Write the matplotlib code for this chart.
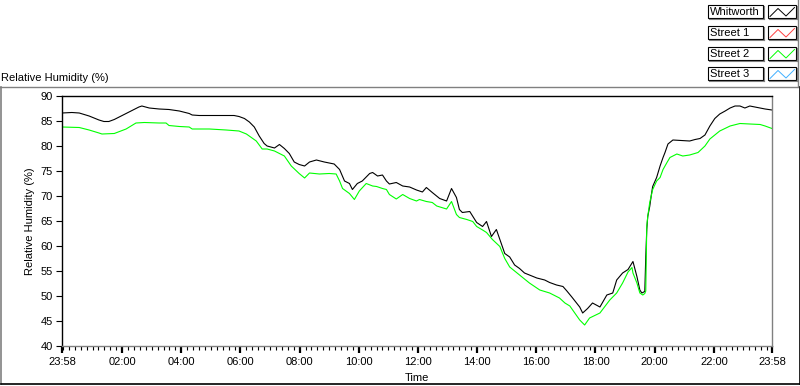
import matplotlib
matplotlib.use("Agg")
import matplotlib.pyplot as plt
from matplotlib.lines import Line2D
from matplotlib.patches import Rectangle

plt.rcParams['font.family'] = ['Liberation Sans', 'DejaVu Sans']
plt.rcParams['font.size'] = 8

# ---- data (minutes elapsed since 23:58) ----
whit_t = [0,20,35,55,75,85,95,106,116,136,156,162,177,197,217,238,258,264,278,319,349,359,370,380,390,400,410,416,431,441,451,461,471,481,492,502,516,532,552,563,573,583,589,599,609,624,630,640,650,658,664,678,691,705,719,731,739,751,766,780,790,800,806,812,827,841,853,861,871,881,888,898,908,918,928,938,948,963,979,989,1003,1016,1024,1034,1042,1050,1056,1066,1076,1091,1105,1117,1125,1137,1148,1158,1166,1172,1176,1182,1184,1186,1188,1192,1196,1198,1206,1213,1219,1223,1229,1239,1255,1273,1284,1294,1304,1314,1324,1334,1345,1355,1365,1375,1385,1395,1405,1416,1426,1440]
whit_rh = [86.6,86.7,86.6,86.0,85.2,84.9,84.9,85.3,85.8,86.8,87.8,88.0,87.6,87.4,87.3,87.0,86.5,86.2,86.1,86.1,86.1,85.9,85.5,84.8,83.8,82.0,80.5,80.0,79.6,80.3,79.5,78.5,76.8,76.3,76.0,76.8,77.2,76.8,76.4,75.3,73.0,72.5,71.3,72.5,73.0,74.5,74.7,74.0,74.2,73.0,72.4,72.7,72.0,71.8,71.2,70.8,71.7,70.7,69.5,69.0,71.5,69.7,67.3,66.7,66.9,64.7,63.9,64.9,61.9,63.3,61.3,58.5,57.8,56.2,55.5,54.6,54.2,53.6,53.2,52.7,52.2,51.9,51.0,49.8,48.8,47.8,46.6,47.5,48.6,47.8,50.2,50.6,53.2,54.6,55.3,56.9,53.9,51.2,50.6,50.9,57.9,63.3,65.9,67.9,70.7,71.9,73.7,76.0,77.7,78.7,80.4,81.2,81.1,81.0,81.3,81.5,82.2,84.0,85.5,86.4,87.0,87.6,88.0,88.0,87.6,88.0,87.8,87.6,87.4,87.2]

st2_t = [0,35,55,75,81,106,130,150,167,197,211,217,238,258,264,299,333,359,374,394,406,416,431,451,465,481,492,502,522,542,556,563,569,583,593,603,617,630,638,650,658,664,678,691,705,719,725,739,751,760,780,790,800,806,821,833,841,853,861,873,888,898,908,928,948,969,989,1009,1020,1030,1040,1050,1060,1070,1091,1111,1125,1137,1148,1156,1158,1166,1172,1178,1182,1184,1186,1188,1192,1198,1206,1213,1219,1227,1233,1247,1259,1273,1290,1304,1314,1334,1355,1375,1395,1416,1426,1440]
st2_rh = [83.8,83.7,83.2,82.6,82.4,82.5,83.4,84.6,84.7,84.6,84.6,84.1,83.9,83.8,83.4,83.4,83.2,83.0,82.4,81.0,79.4,79.4,79.0,78.0,76.0,74.5,73.6,74.6,74.4,74.5,74.4,73.0,71.5,70.5,69.3,71.0,72.5,72.0,71.9,71.5,71.3,70.3,69.4,70.3,69.5,69.0,69.3,68.9,68.7,68.0,67.4,68.9,66.3,65.7,65.3,64.9,63.9,63.2,62.7,61.3,59.9,57.5,55.8,54.2,52.6,51.2,50.6,49.6,48.6,48.0,46.6,45.2,44.2,45.6,46.6,49.2,50.6,52.6,54.8,55.7,54.6,52.6,50.6,50.2,50.5,51.0,63.9,65.9,68.7,71.3,73.0,73.7,75.3,76.7,77.7,78.4,78.0,78.2,78.7,80.0,81.4,83.0,84.0,84.5,84.4,84.3,84.0,83.5]

legend_names = ["Whitworth", "Street 1", "Street 2", "Street 3"]
legend_colors = ["#000000", "#ff4040", "#00ff00", "#40b0ff"]

x_tick_pos = [0, 122, 242, 362, 482, 602, 722, 842, 962, 1082, 1202, 1322, 1440]
x_tick_labels = ["23:58", "02:00", "04:00", "06:00", "08:00", "10:00", "12:00",
                 "14:00", "16:00", "18:00", "20:00", "22:00", "23:58"]
y_ticks = [40, 45, 50, 55, 60, 65, 70, 75, 80, 85, 90]

W, H = 800, 386
fig = plt.figure(figsize=(W / 100, H / 100), dpi=100)

def fx(px):
    return px / W

def fy(py):
    return 1 - py / H

ax = fig.add_axes([fx(62), fy(346), (772 - 62) / W, (346 - 96) / H])
ax.plot(whit_t, whit_rh, color="#000000", lw=0.8)
ax.plot(st2_t, st2_rh, color="#00ff00", lw=0.8)
ax.set_xlim(0, 1440)
ax.set_ylim(40, 90)
ax.set_xticks(x_tick_pos)
ax.set_xticklabels(x_tick_labels)
ax.set_xticks([2 + 12 * k for k in range(120)], minor=True)
ax.set_yticks(y_ticks)
ax.tick_params(axis='both', direction='out', width=0.8, color='black', labelsize=8, pad=2)
ax.tick_params(axis='x', which='major', length=5, width=1.6, pad=3)
ax.tick_params(axis='x', which='minor', length=3, width=0.8)
ax.tick_params(axis='y', length=4.5)
ax.spines['top'].set_color('black')
ax.spines['left'].set_color('black')
ax.spines['right'].set_color('#808080')
ax.spines['bottom'].set_color('#808080')
for s in ax.spines.values():
    s.set_linewidth(1.0)
ax.set_xlabel("Time", fontsize=8, labelpad=4)
ax.set_ylabel("Relative Humidity (%)", fontsize=8, labelpad=4)

# title
fig.text(fx(1), fy(78), "Relative Humidity (%)", ha='left', va='center', fontsize=8)

# outer frame
grey = "#808080"
fig.add_artist(Line2D([fx(0), fx(797)], [fy(86.5), fy(86.5)], color=grey, lw=1))
fig.add_artist(Line2D([fx(797.5), fx(797.5)], [fy(0), fy(86.5)], color=grey, lw=1))
fig.add_artist(Line2D([fx(1), fx(1)], [fy(86.5), fy(384)], color=grey, lw=1.2))
fig.add_artist(Line2D([fx(1), fx(799.5)], [fy(384), fy(384)], color='black', lw=1.2))
fig.add_artist(Line2D([fx(799.5), fx(799.5)], [fy(86.5), fy(384)], color='black', lw=1.2))

# legend
row_tops = [5, 26, 47, 67]
for name, col, top in zip(legend_names, legend_colors, row_tops):
    bh = 13
    fig.add_artist(Rectangle((fx(708), fy(top + bh)), (763 - 708) / W, bh / H,
                             facecolor='white', edgecolor='black', lw=0.8))
    fig.add_artist(Line2D([fx(709), fx(764)], [fy(top + bh + 1), fy(top + bh + 1)], color=grey, lw=0.8))
    fig.add_artist(Line2D([fx(764), fx(764)], [fy(top + 1), fy(top + bh + 1)], color=grey, lw=0.8))
    fig.text(fx(710), fy(top + bh / 2 + 0.5), name, ha='left', va='center', fontsize=8)
    fig.add_artist(Rectangle((fx(768), fy(top + bh)), (796 - 768) / W, bh / H,
                             facecolor='white', edgecolor='black', lw=0.8))
    fig.add_artist(Line2D([fx(769), fx(797)], [fy(top + bh + 1), fy(top + bh + 1)], color=grey, lw=0.8))
    fig.add_artist(Line2D([fx(797), fx(797)], [fy(top + 1), fy(top + bh + 1)], color=grey, lw=0.8))
    fig.add_artist(Line2D([fx(770), fx(778), fx(786), fx(794.5)],
                          [fy(top + 11.5), fy(top + 3.5), fy(top + 11), fy(top + 2.5)],
                          color=col, lw=0.7))

fig.savefig("out.png", dpi=100)
